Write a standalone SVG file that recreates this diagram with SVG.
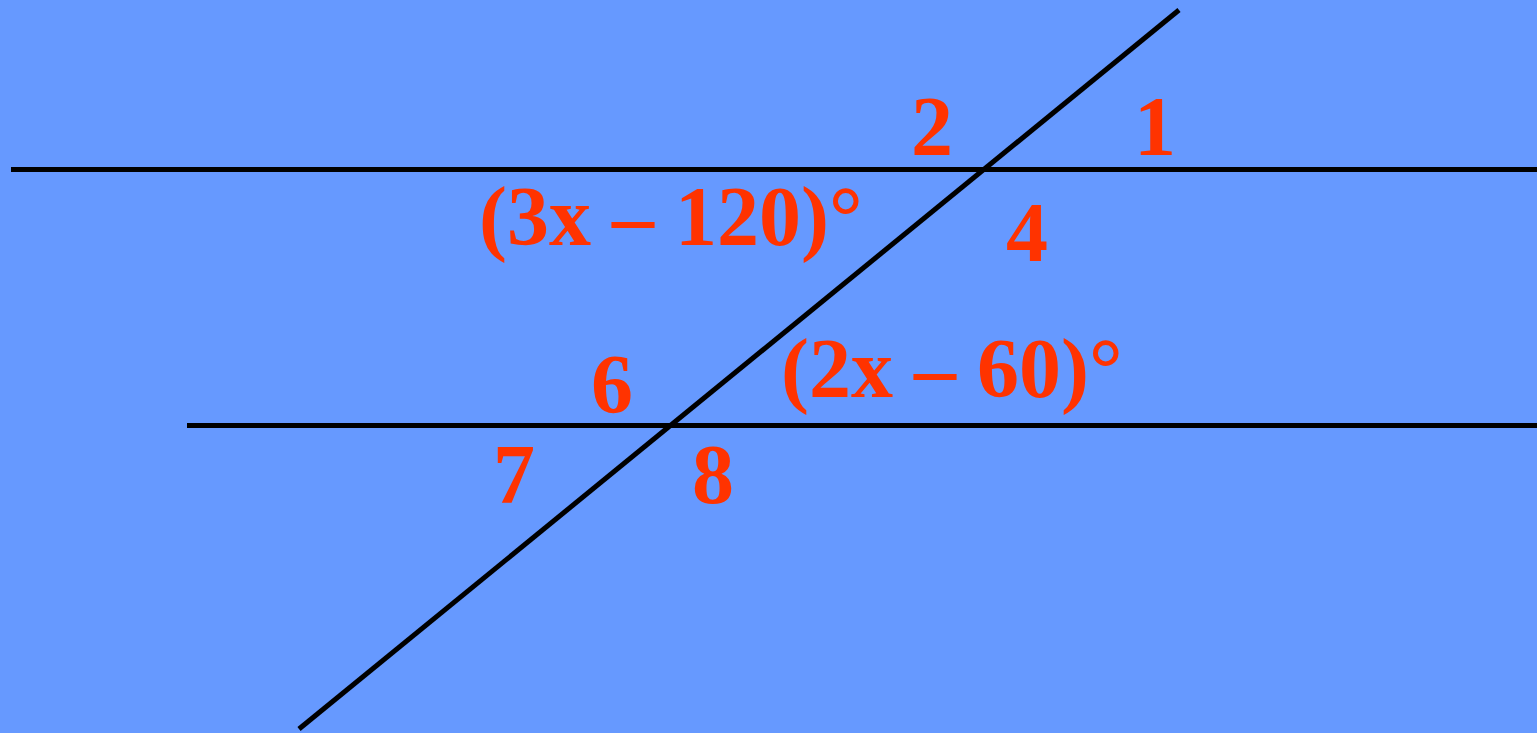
<svg xmlns="http://www.w3.org/2000/svg" width="1537" height="733" viewBox="0 0 1537 733">
<style>
.ln{stroke:#000;stroke-width:5;fill:none}
.t{font-family:"Liberation Serif","Times New Roman",serif;font-weight:bold;font-size:84px;fill:#FF3300}
.c{text-anchor:middle}
</style>
<rect width="1537" height="733" fill="#6699FF"/>
<g id="connectors">
<line class="ln" x1="11" y1="169.5" x2="1371" y2="169.5"/>
<line class="ln" x1="187" y1="169.5" x2="1537" y2="169.5"/>
<line class="ln" x1="187" y1="425.5" x2="1537" y2="425.5"/>
<line class="ln" x1="1179" y1="10" x2="299" y2="729"/>
</g>
<g id="label-2"><text class="t c" x="932" y="155">2</text></g>
<g id="label-1"><text class="t c" x="1155" y="155">1</text></g>
<g id="label-4"><text class="t c" x="1027" y="261">4</text></g>
<g id="label-3x"><text class="t" x="479" y="245">(3x – 120)°</text></g>
<g id="label-2x"><text class="t" x="781" y="397">(2x – 60)°</text></g>
<g id="label-6"><text class="t c" x="612" y="413">6</text></g>
<g id="label-7"><text class="t c" x="514" y="503">7</text></g>
<g id="label-8"><text class="t c" x="713" y="503">8</text></g>
</svg>
